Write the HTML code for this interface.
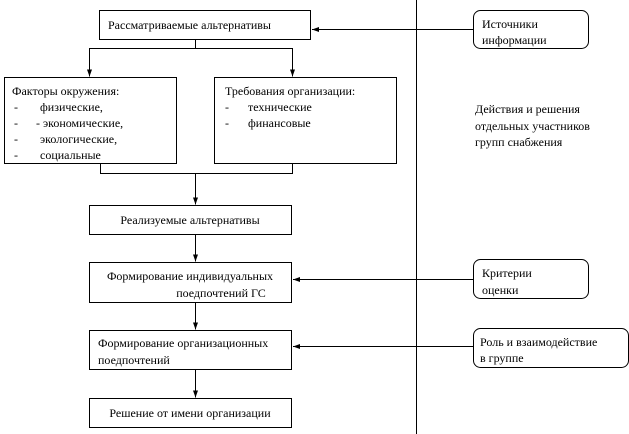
<!DOCTYPE html>
<html><head><meta charset="utf-8"><style>
html,body{margin:0;padding:0;background:#fff;}
svg{display:block;}
svg text{font-family:"Liberation Serif",serif !important;font-size:12px;fill:#000;}
</style></head><body>
<svg width="629" height="434" viewBox="0 0 629 434" xmlns="http://www.w3.org/2000/svg">
<defs><marker id="a" markerWidth="8" markerHeight="8" refX="7" refY="4" orient="auto" markerUnits="userSpaceOnUse"><path d="M0,1.5 L7,4 L0,6.5 Z" fill="#000"/></marker></defs>
<g stroke="#000" stroke-width="1" fill="none">
<line x1="416.5" y1="0" x2="416.5" y2="434"/>
<rect x="99.5" y="10.5" width="211" height="29"/>
<rect x="4.5" y="77.5" width="172" height="86"/>
<rect x="214.5" y="77.5" width="182" height="86"/>
<rect x="89.5" y="205.5" width="202" height="29"/>
<rect x="89.5" y="262.5" width="202" height="40"/>
<rect x="89.5" y="330.5" width="202" height="39"/>
<rect x="89.5" y="398.5" width="202" height="29"/>
<rect x="473.5" y="10.5" width="115" height="38" rx="7"/>
<rect x="473.5" y="259.5" width="115" height="39" rx="7"/>
<rect x="473.5" y="328.5" width="155" height="39" rx="7"/>
<polyline points="195.5,39 195.5,48.5 89.5,48.5 89.5,76.5" marker-end="url(#a)"/>
<polyline points="195.5,48.5 292.5,48.5 292.5,76.5" marker-end="url(#a)"/>
<polyline points="100.5,163 100.5,173.5 292.5,173.5 292.5,163"/>
<line x1="195.5" y1="173.5" x2="195.5" y2="204.5" marker-end="url(#a)"/>
<line x1="195.5" y1="234" x2="195.5" y2="261.5" marker-end="url(#a)"/>
<line x1="195.5" y1="302" x2="195.5" y2="329.5" marker-end="url(#a)"/>
<line x1="195.5" y1="369" x2="195.5" y2="397.5" marker-end="url(#a)"/>
<line x1="473" y1="29.5" x2="312" y2="29.5" marker-end="url(#a)"/>
<line x1="473" y1="279.5" x2="293" y2="279.5" marker-end="url(#a)"/>
<line x1="473" y1="346.5" x2="293" y2="346.5" marker-end="url(#a)"/>
</g>
<g font-family="Liberation Serif, serif" font-size="12">
<text x="108" y="29">Рассматриваемые альтернативы</text>
<text x="12" y="95">Факторы окружения:</text>
<text x="14" y="111">-</text><text x="40" y="111">физические,</text>
<text x="14" y="127">-</text><text x="36" y="127">- экономические,</text>
<text x="14" y="143">-</text><text x="40" y="143">экологические,</text>
<text x="14" y="159">-</text><text x="40" y="159">социальные</text>
<text x="225" y="95">Требования организации:</text>
<text x="225" y="111">-</text><text x="248" y="111">технические</text>
<text x="225" y="127">-</text><text x="248" y="127">финансовые</text>
<text x="190" y="224" text-anchor="middle">Реализуемые альтернативы</text>
<text x="190" y="280" text-anchor="middle">Формирование индивидуальных</text>
<text x="221" y="297" text-anchor="middle">поедпочтений ГС</text>
<text x="98" y="347">Формирование организационных</text>
<text x="98" y="364">поедпочтений</text>
<text x="190" y="417" text-anchor="middle">Решение от имени организации</text>
<text x="482" y="28">Источники</text>
<text x="482" y="44">информации</text>
<text x="475" y="113">Действия и решения</text>
<text x="475" y="130">отдельных участников</text>
<text x="475" y="146">групп снабжения</text>
<text x="482" y="277">Критерии</text>
<text x="482" y="294">оценки</text>
<text x="480" y="346">Роль и взаимодействие</text>
<text x="480" y="362">в группе</text>
</g>
</svg>
</body></html>
